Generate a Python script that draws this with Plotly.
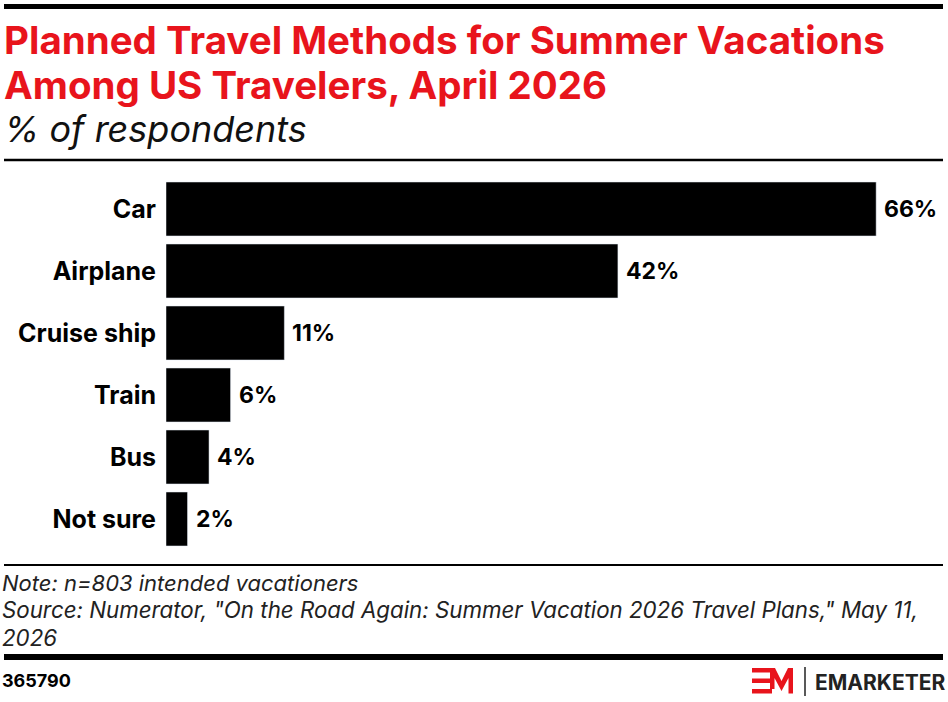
import plotly.graph_objects as go

# data
methods = ["Car", "Airplane", "Cruise ship", "Train", "Bus", "Not sure"]
shares = [66, 42, 11, 6, 4, 2]

title_lines = ["Planned Travel Methods for Summer Vacations",
               "Among US Travelers, April 2026"]
subtitle = "% of respondents"
note = "Note: n=803 intended vacationers"
source_lines = ['Source: Numerator, "On the Road Again: Summer Vacation 2026 Travel Plans," May 11,',
                "2026"]
chart_id = "365790"

W, H = 948, 702
L, R, T, B = 166, 8, 178, 152
RED = "#e8141c"
FONT = "Inter"

# pixel -> paper helpers
pw, ph = W - L - R, H - T - B
def px(x):
    return (x - L) / pw
def py(y):
    return (H - B - y) / ph

fig = go.Figure(go.Bar(
    x=shares, y=methods, orientation="h",
    marker_color="#000000", hoverinfo="x+y",
))

fig.update_layout(
    width=W, height=H, margin=dict(l=L, r=R, t=T, b=B),
    paper_bgcolor="white", plot_bgcolor="white",
    bargap=0.13, showlegend=False,
    font=dict(family=FONT, color="#000000"),
    xaxis=dict(range=[0, pw / 10.76], visible=False),
    yaxis=dict(autorange="reversed", showgrid=False, zeroline=False, showline=False,
               ticks="", ticklabelstandoff=9,
               tickfont=dict(family=FONT, size=25, color="#000000", weight="bold")),
)

ann = []
# value labels next to bars
for m, v in zip(methods, shares):
    ann.append(dict(text=f"<b>{v}%</b>", x=v, y=m, xref="x", yref="y", xanchor="left",
                    xshift=6, showarrow=False,
                    font=dict(family=FONT, size=23, color="#000000")))

txt = []
for i, line in enumerate(title_lines):
    txt.append(dict(text=f"<b>{line}</b>", x=px(2), y=py(40 + 45 * i), xanchor="left", yanchor="middle",
                    font=dict(family=FONT, size=38.5, color=RED)))
txt.append(dict(text=f"<i>{subtitle}</i>", x=px(2), y=py(129), xanchor="left", yanchor="middle",
                font=dict(family=FONT, size=36, color="#111111")))
txt.append(dict(text=f"<i>{note}</i>", x=px(0), y=py(583), xanchor="left", yanchor="middle",
                font=dict(family=FONT, size=22, color="#222222")))
for i, line in enumerate(source_lines):
    txt.append(dict(text=f"<i>{line}</i>", x=px(0), y=py(609 + 28 * i), xanchor="left", yanchor="middle",
                    font=dict(family=FONT, size=22.3, color="#222222")))
txt.append(dict(text=f"<b>{chart_id}</b>", x=px(0), y=py(680), xanchor="left", yanchor="middle",
                font=dict(family=FONT, size=18, color="#000000")))
txt.append(dict(text="<b>EMARKETER</b>", x=px(947), y=py(682), xanchor="right", yanchor="middle",
                font=dict(family=FONT, size=21, color="#222222")))
for a in txt:
    a.update(xref="paper", yref="paper", showarrow=False)
fig.update_layout(annotations=ann + txt)

def hline(y, w):
    return dict(type="line", x0=px(4), x1=px(943), y0=py(y), y1=py(y), line=dict(color="#000000", width=w))

def rect(x0, y0, x1, y1):
    return dict(type="rect", x0=px(x0), x1=px(x1), y0=py(y0), y1=py(y1), fillcolor=RED, line_width=0)

shapes = [
    hline(6.5, 5), hline(160, 2.5), hline(565, 2), hline(657, 6),
    dict(type="line", x0=px(805), x1=px(805), y0=py(667), y1=py(696), line=dict(color="#222222", width=1.5)),
    # EM mark of the logo
    rect(752, 668, 772, 672.5), rect(752, 678.5, 770, 683), rect(752, 689, 772, 693.5),
    dict(type="path", fillcolor=RED, line_width=0,
         path=" ".join([
             f"M {px(770)},{py(668)}", f"L {px(775)},{py(668)}", f"L {px(781.5)},{py(681)}",
             f"L {px(788)},{py(668)}", f"L {px(793)},{py(668)}", f"L {px(793)},{py(693.5)}",
             f"L {px(788.5)},{py(693.5)}", f"L {px(788.5)},{py(678)}", f"L {px(781.5)},{py(691)}",
             f"L {px(774.5)},{py(678)}", f"L {px(774.5)},{py(689)}", f"L {px(770)},{py(689)}", "Z"])),
]
for s in shapes:
    s.update(xref="paper", yref="paper")
fig.update_layout(shapes=shapes)

fig.write_html("out.html", config={"displayModeBar": False},
               post_script="document.body.style.margin='0';")
